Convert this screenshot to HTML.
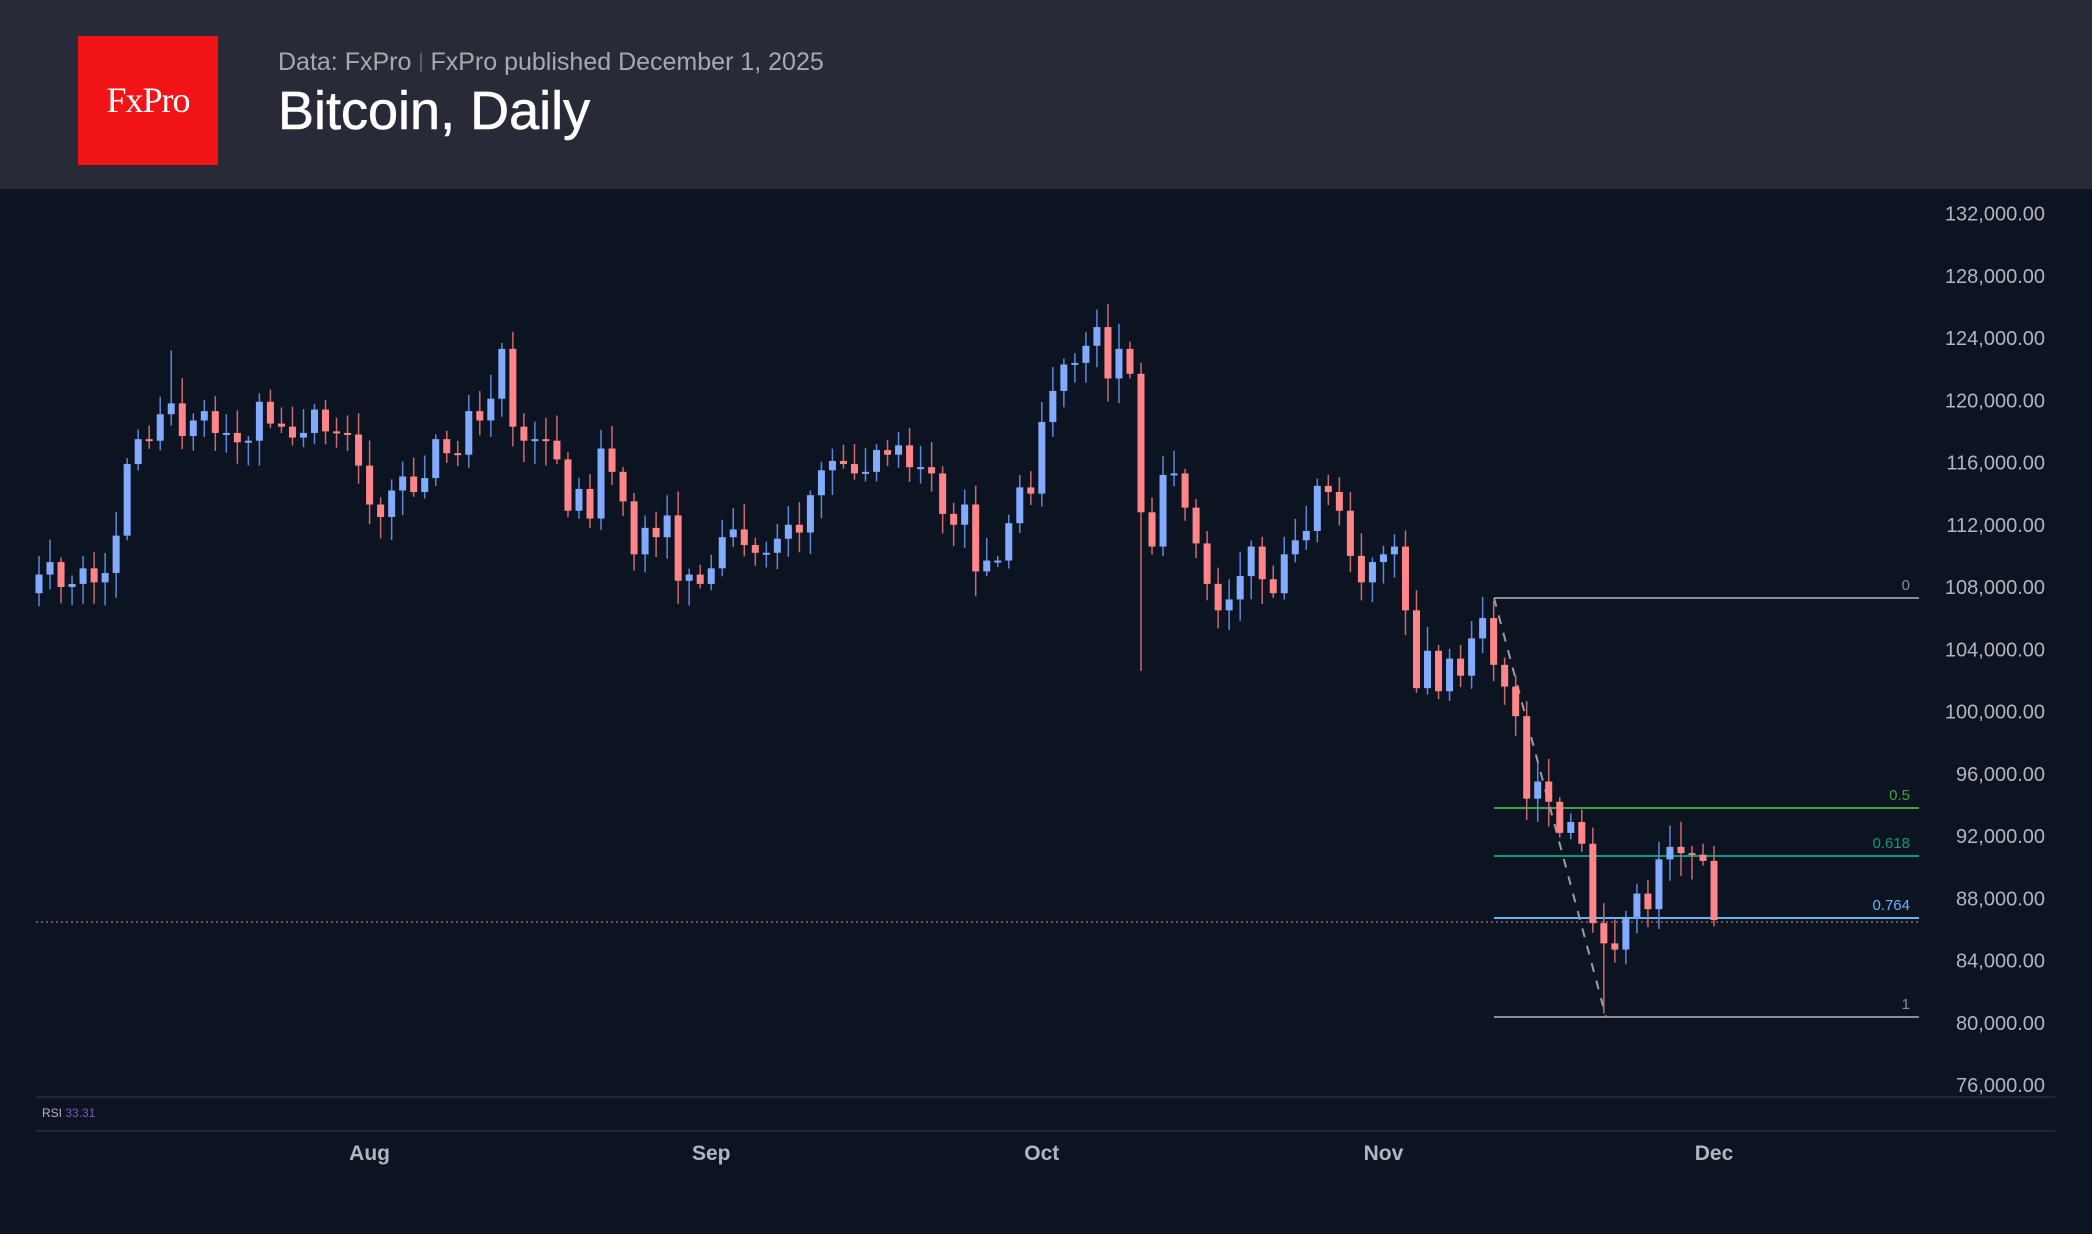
<!DOCTYPE html>
<html><head><meta charset="utf-8"><style>
html,body{margin:0;padding:0;background:#0d1421;}
body{width:2092px;height:1234px;position:relative;overflow:hidden;font-family:"Liberation Sans",sans-serif;}
#hdr{position:absolute;left:0;top:0;width:2092px;height:189px;background:#282b37;}
#logo{position:absolute;left:78px;top:36px;width:140px;height:129px;background:#f21316;color:#fff;font-family:"Liberation Serif",serif;font-size:36px;line-height:129px;text-align:center;letter-spacing:-1px;}
#sub{position:absolute;left:278px;top:48px;color:#a8a9ae;font-size:25px;}
#ttl{position:absolute;left:278px;top:80px;color:#fff;font-size:54px;-webkit-text-stroke:0.6px #fff;}
svg{position:absolute;left:0;top:0;}
</style></head><body>
<div id="hdr"><div id="logo">FxPro</div>
<div id="sub">Data: FxPro <span style="color:#666;font-size:20px;position:relative;top:-2px">|</span> FxPro published December 1, 2025</div>
<div id="ttl">Bitcoin, Daily</div></div>
<svg id="c" width="2092" height="1234" xmlns="http://www.w3.org/2000/svg"></svg>
<script>
var C=[108.8,109.6,108.0,108.2,109.2,108.3,108.9,111.3,115.9,117.5,117.4,119.1,119.8,117.7,118.7,119.3,117.9,117.9,117.3,117.4,119.9,118.5,118.3,117.6,117.9,119.4,118.0,117.9,117.8,115.8,
113.3,112.5,114.2,115.1,114.1,115.0,117.5,116.6,116.5,119.3,118.7,120.1,123.3,118.3,117.4,117.5,117.4,116.2,112.9,114.3,112.4,116.9,115.4,113.5,110.1,111.8,111.2,112.6,108.4,108.8,108.2,
109.2,111.2,111.7,110.7,110.2,110.2,111.1,112.0,111.5,113.9,115.5,116.1,115.9,115.3,115.4,116.8,116.5,117.1,115.7,115.7,115.3,112.7,112.0,113.3,109.0,109.7,109.7,112.1,114.4,114.0,
118.6,120.6,122.3,122.4,123.5,124.7,121.4,123.3,121.7,112.8,110.6,115.2,115.3,113.1,110.8,108.2,106.5,107.2,108.7,110.6,108.5,107.6,110.1,111.0,111.6,114.5,114.1,112.9,110.0,108.3,109.6,
110.1,110.6,106.5,101.5,103.9,101.3,103.4,102.3,104.7,106.0,103.0,101.6,99.7,94.4,95.5,94.2,92.2,92.9,91.5,86.4,85.1,84.7,86.8,88.3,87.3,90.5,91.3,90.9,90.8,90.4,86.6];
var O0=107.6;
var sp={12:[123.2,null],43:[124.4,null],97:[126.2,null],100:[null,102.6],132:[107.1,null],142:[null,80.6]};
function Y(p){return 213.5+(132-p)/4*62.25;}
function X(d){return 39+d*11.02;}
var s='';
s+='<line x1="36" y1="922" x2="1919" y2="922" stroke="#b05a60" stroke-width="1.5" stroke-dasharray="2,3"/>';
var fl=[[598,'#8a8d93','0'],[808,'#43a047','0.5'],[856,'#089981','0.618'],[918,'#64b5f6','0.764'],[1017,'#8a8d93','1']];
fl.forEach(function(f){s+='<line x1="1494" y1="'+f[0]+'" x2="1919" y2="'+f[0]+'" stroke="'+f[1]+'" stroke-width="2"/>';
s+='<text x="1910" y="'+(f[0]-8)+'" fill="'+f[1]+'" font-size="15" text-anchor="end" font-family="Liberation Sans,sans-serif">'+f[2]+'</text>';});
s+='<line x1="1494" y1="598" x2="1606" y2="1017" stroke="#9a9da3" stroke-width="2" stroke-dasharray="9,9"/>';
var prev=O0;
for(var d=0;d<C.length;d++){
 var o=prev,c=C[d];var r=((d*37+11)%17)/17,r2=((d*53+5)%13)/13;
 var hi=Math.max(o,c)+0.3+r*1.4,lo=Math.min(o,c)-0.3-r2*1.4;
 if(sp[d]){if(sp[d][0])hi=sp[d][0];if(sp[d][1])lo=sp[d][1];}
 var up=c>=o,col=up?'#82aaff':'#ff8589',wc=up?'#5f86d8':'#c86a70';
 var x=X(d);
 s+='<line x1="'+x+'" y1="'+Y(hi)+'" x2="'+x+'" y2="'+Y(lo)+'" stroke="'+wc+'" stroke-width="1.5"/>';
 var t=Y(Math.max(o,c)),h=Math.max(2,Y(Math.min(o,c))-t);
 s+='<rect x="'+(x-3.5)+'" y="'+t+'" width="7" height="'+h+'" fill="'+col+'"/>';
 prev=c;
}
for(var p=132;p>=76;p-=4){s+='<text x="2045" y="'+(Y(p)+7)+'" fill="#b2b5be" font-size="20" text-anchor="end" font-family="Liberation Sans,sans-serif">'+p+',000.00</text>';}
s+='<line x1="36" y1="1097" x2="2055" y2="1097" stroke="#2a2e39" stroke-width="1.5"/>';
s+='<line x1="36" y1="1131" x2="2055" y2="1131" stroke="#2a2e39" stroke-width="1.5"/>';
s+='<text x="42" y="1117" fill="#b2b5be" font-size="12" font-family="Liberation Sans,sans-serif">RSI <tspan fill="#7e57c2">33.31</tspan></text>';
[['Aug',30],['Sep',61],['Oct',91],['Nov',122],['Dec',152]].forEach(function(m){s+='<text x="'+X(m[1])+'" y="1160" fill="#b2b5be" font-size="21" font-weight="bold" text-anchor="middle" font-family="Liberation Sans,sans-serif">'+m[0]+'</text>';});
document.getElementById('c').innerHTML=s;
</script>
</body></html>
